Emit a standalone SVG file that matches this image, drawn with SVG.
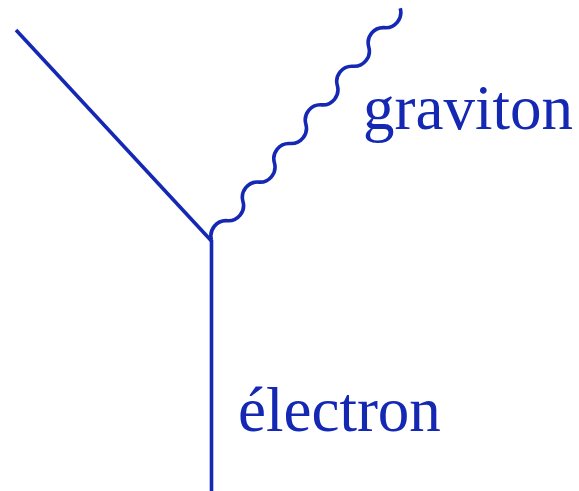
<svg xmlns="http://www.w3.org/2000/svg" width="579" height="491" viewBox="0 0 579 491">
<style>
.ln{fill:none;stroke:#1428b4;stroke-width:3.6;stroke-linecap:butt;stroke-linejoin:round}
.lbl{font-family:"Liberation Serif","Times New Roman",serif;font-size:63px;fill:#1428b4}
</style>
<rect width="579" height="491" fill="#ffffff"/>
<g id="connectors">
<line id="incoming-electron" class="ln" x1="16" y1="30" x2="211.5" y2="241"/>
<line id="outgoing-electron" class="ln" x1="211.5" y1="240" x2="211.5" y2="491"/>
<path id="graviton-line" class="ln" transform="translate(211.5,240) rotate(-50.83)" d="M0,0 a15.2,15.2 0 0 1 24.9,0 a15.2,15.2 0 0 0 24.9,0 a15.2,15.2 0 0 1 24.9,0 a15.2,15.2 0 0 0 24.9,0 a15.2,15.2 0 0 1 24.9,0 a15.2,15.2 0 0 0 24.9,0 a15.2,15.2 0 0 1 24.9,0 a15.2,15.2 0 0 0 24.9,0 a15.2,15.2 0 0 1 24.9,0 a15.2,15.2 0 0 0 24.9,0 a15.2,15.2 0 0 1 24.9,0 a15.2,15.2 0 0 0 24.9,0"/>
</g>
<g id="graviton">
<text class="lbl" x="363" y="129">graviton</text>
</g>
<g id="electron">
<text class="lbl" x="238" y="431">électron</text>
</g>
</svg>
